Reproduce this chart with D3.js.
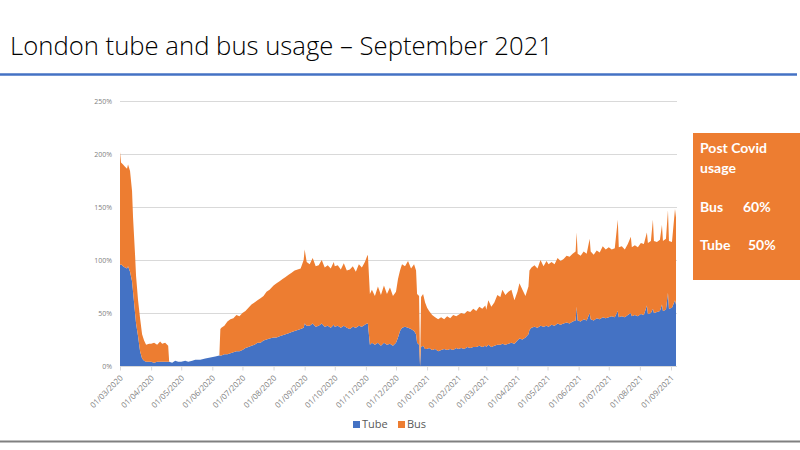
<!DOCTYPE html>
<html>
<head>
<meta charset="utf-8">
<script src="https://cdn.jsdelivr.net/npm/d3@7"></script>
<style>
  body { margin: 0; background: #fff; }
  svg { display: block; }
</style>
</head>
<body>
<div id="chart"></div>
<script>
// Days counted from 1 March 2020
var startDate = new Date(2020, 2, 1);
var endDate   = new Date(2021, 8, 7);

var dayOffsets = [
  0, 1, 3, 5, 7, 8, 10, 12, 13, 15, 16, 18, 20, 22, 24, 26, 29, 31, 34, 37, 40, 42, 45, 47, 48,
  49, 52, 55, 58, 61, 65, 68, 72, 75, 80, 85, 90, 95, 99,
  100, 101, 104, 107, 110, 113, 116, 119, 122, 125, 128, 131, 134, 137, 140, 143, 146, 149,
  153, 156, 159, 162, 165, 168, 171, 174, 177, 180, 183, 184, 186, 189, 192, 195, 198, 201,
  204, 207, 210, 213, 214, 217, 220, 223, 226, 229, 232, 235, 238, 241, 244, 246, 247,
  249, 251, 254, 257, 260, 263, 266, 269, 272, 275, 277, 279, 281, 284, 287, 290, 293, 295,
  296, 298, 299, 300, 302, 304, 306, 308, 311, 314, 317, 320, 323, 326, 329, 332, 335, 337,
  340, 343, 346, 349, 352, 355, 358, 361, 364, 365, 367, 370, 373, 376, 379, 381, 384, 387,
  390, 393, 396, 398, 401, 404, 407, 408, 410, 413, 416, 419, 422, 425, 427, 430, 433, 436,
  439, 442, 445, 448, 451, 454, 455, 456, 459, 462, 465, 468, 469, 472, 475, 478, 481, 484,
  487, 490, 493, 496, 497, 500, 503, 506, 509, 510, 513, 516, 519, 522, 525, 526, 529, 531,
  532, 535, 538, 540, 541, 544, 546, 547, 550, 553, 554
];

// Tube usage, % of pre-covid
var tubeUsage = [
  95, 96, 94, 93, 92, 94, 89, 80, 70, 50, 40, 28, 14, 7, 5, 4, 4, 4, 3, 4, 4, 4, 4, 4, 4,
  4, 3, 5, 4, 4, 5, 4, 5, 6, 6, 7, 8, 9, 10,
  10, 10, 11, 11, 12, 13, 14, 14, 15, 17, 18, 19, 20, 22, 22, 24, 25, 26,
  27, 27, 28, 29, 30, 31, 32, 33, 34, 35, 36, 40, 38, 38, 40, 37, 38, 40,
  37, 38, 36, 39, 37, 38, 36, 38, 36, 35, 37, 36, 38, 37, 39, 40, 40,
  20, 22, 20, 22, 19, 22, 20, 21, 19, 22, 27, 33, 36, 37, 36, 35, 33, 30,
  22, 20, 0, 18, 19, 16, 16, 17, 15, 16, 14, 15, 16, 15, 16, 15, 17, 16,
  17, 16, 18, 17, 18, 18, 19, 18, 19, 18, 20, 18, 19, 20, 20, 21, 20, 21,
  22, 21, 24, 26, 25, 27, 30, 34, 36, 37, 36, 38, 37, 38, 37, 39, 38, 40,
  39, 40, 41, 40, 42, 43, 56, 43, 42, 44, 43, 50, 44, 43, 45, 44, 46, 45,
  46, 47, 46, 52, 46, 47, 46, 48, 50, 47, 48, 47, 49, 48, 57, 49, 50, 54,
  50, 51, 52, 58, 52, 53, 69, 54, 55, 62, 58
];

// Bus usage, % of pre-covid (stacked on top of tube)
var busUsage = [
  107, 96, 96, 95, 94, 96, 95, 85, 70, 55, 45, 34, 31, 23, 19, 16, 17, 17, 19, 16, 19, 17, 18, 16, 15,
  0, 0, 0, 0, 0, 0, 0, 0, 0, 0, 0, 0, 0, 0,
  25, 26, 27, 31, 32, 32, 34, 33, 35, 35, 37, 39, 40, 40, 42, 42, 45, 46,
  49, 51, 52, 53, 54, 55, 56, 57, 57, 57, 64, 70, 60, 58, 62, 57, 57, 60,
  56, 57, 56, 59, 57, 57, 55, 59, 54, 56, 57, 53, 58, 56, 59, 63, 65,
  48, 50, 46, 53, 48, 54, 48, 53, 47, 48, 55, 57, 60, 57, 63, 57, 63, 60,
  46, 46, 2, 47, 49, 44, 39, 35, 33, 30, 30, 31, 28, 32, 29, 33, 30, 32,
  33, 33, 34, 34, 36, 34, 37, 36, 38, 35, 42, 38, 41, 47, 45, 51, 47, 49,
  50, 41, 46, 52, 47, 39, 45, 56, 57, 58, 56, 62, 57, 61, 59, 59, 58, 62,
  60, 61, 63, 63, 64, 65, 70, 63, 62, 64, 63, 70, 64, 62, 64, 63, 67, 65,
  66, 63, 65, 86, 66, 66, 64, 67, 72, 65, 66, 65, 67, 67, 69, 67, 68, 84,
  68, 66, 67, 75, 66, 67, 78, 64, 62, 86, 82
];

var seriesNames  = ["Tube", "Bus"];
var seriesColors = ["#4472C4", "#ED7D31"];
var yTicks       = [0, 50, 100, 150, 200, 250];

var width = 800, height = 450;

var rows = dayOffsets.map(function(d, i) {
  return { date: d3.timeDay.offset(startDate, d), Tube: tubeUsage[i], Bus: busUsage[i] };
});

var svg = d3.select("#chart").append("svg")
  .attr("width", width)
  .attr("height", height);

// Title and rules
svg.append("text")
  .attr("x", 10)
  .attr("y", 55)
  .attr("textLength", 543)
  .attr("lengthAdjust", "spacingAndGlyphs")
  .style("font-family", "'Open Sans', sans-serif")
  .style("font-weight", 300)
  .style("font-size", "26px")
  .style("fill", "#000")
  .text("London tube and bus usage – September 2021");

svg.append("line")
  .attr("x1", 0).attr("x2", 797)
  .attr("y1", 74.5).attr("y2", 74.5)
  .style("stroke", "#4472C4")
  .style("stroke-width", 2.5);

svg.append("line")
  .attr("x1", 0).attr("x2", 800)
  .attr("y1", 441.5).attr("y2", 441.5)
  .style("stroke", "#808080")
  .style("stroke-width", 2);

// Scales
var x = d3.scaleTime().domain([startDate, endDate]).range([120, 677]);
var y = d3.scaleLinear().domain([0, 250]).range([366, 101]);

// Gridlines
svg.append("g")
  .selectAll("line")
  .data(yTicks.filter(function(t) { return t > 0; }))
  .enter().append("line")
    .attr("x1", 120).attr("x2", 677)
    .attr("y1", function(d) { return y(d) + 0.5; })
    .attr("y2", function(d) { return y(d) + 0.5; })
    .style("stroke", "#D9D9D9")
    .style("stroke-width", 1);

// Stacked areas
var stacked = d3.stack().keys(seriesNames)(rows);

var area = d3.area()
  .x(function(d) { return x(d.data.date); })
  .y0(function(d) { return y(d[0]); })
  .y1(function(d) { return y(d[1]); });

svg.append("g")
  .selectAll("path")
  .data(stacked)
  .enter().append("path")
    .attr("d", area)
    .style("fill", function(d, i) { return seriesColors[i]; });

// Y axis labels
var yAxis = svg.append("g")
  .attr("transform", "translate(120,0)")
  .call(d3.axisLeft(y).tickValues(yTicks).tickSize(0).tickPadding(8)
    .tickFormat(function(d) { return d + "%"; }));
yAxis.select(".domain").remove();
yAxis.selectAll("text")
  .style("font-family", "'Open Sans', sans-serif")
  .style("font-size", "7px")
  .style("fill", "#7F7F7F");

// X axis
var monthTicks = d3.timeMonth.range(startDate, new Date(2021, 8, 2));
var xAxis = svg.append("g")
  .attr("transform", "translate(0,366.5)")
  .call(d3.axisBottom(x).tickValues(monthTicks).tickSize(4)
    .tickFormat(d3.timeFormat("%d/%m/%Y")));
xAxis.select(".domain")
  .attr("d", "M120,0H677")
  .style("stroke", "#D9D9D9");
xAxis.selectAll(".tick line").style("stroke", "#D9D9D9");
xAxis.selectAll("text")
  .attr("y", 0)
  .attr("dy", 0)
  .attr("transform", "translate(3,12) rotate(-45)")
  .style("text-anchor", "end")
  .style("font-family", "'Open Sans', sans-serif")
  .style("font-size", "8px")
  .style("fill", "#7F7F7F");

// Legend
var legend = svg.append("g")
  .selectAll("g")
  .data(seriesNames)
  .enter().append("g")
    .attr("transform", function(d, i) { return "translate(353," + 0 + ")translate(" + (i * 45) + ",421)"; });
legend.append("rect")
  .attr("width", 7).attr("height", 7)
  .style("fill", function(d, i) { return seriesColors[i]; });
legend.append("text")
  .attr("x", 9)
  .attr("y", 7)
  .style("font-family", "'Open Sans', sans-serif")
  .style("font-size", "11px")
  .style("fill", "#595959")
  .text(function(d) { return d; });

// Side note box
var note = svg.append("g");
note.append("rect")
  .attr("x", 693).attr("y", 133)
  .attr("width", 107).attr("height", 147)
  .style("fill", "#ED7D31");

var noteLines = [
  { text: "Post Covid", x: 700, y: 153 },
  { text: "usage",      x: 700, y: 173 },
  { text: "Bus",        x: 700, y: 212 },
  { text: "60%",        x: 743, y: 212 },
  { text: "Tube",       x: 700, y: 250 },
  { text: "50%",        x: 748, y: 250 }
];
note.selectAll("text")
  .data(noteLines)
  .enter().append("text")
    .attr("x", function(d) { return d.x; })
    .attr("y", function(d) { return d.y; })
    .style("font-family", "Lato, sans-serif")
    .style("font-weight", 700)
    .style("font-size", "14px")
    .style("fill", "#fff")
    .text(function(d) { return d.text; });
</script>
</body>
</html>
